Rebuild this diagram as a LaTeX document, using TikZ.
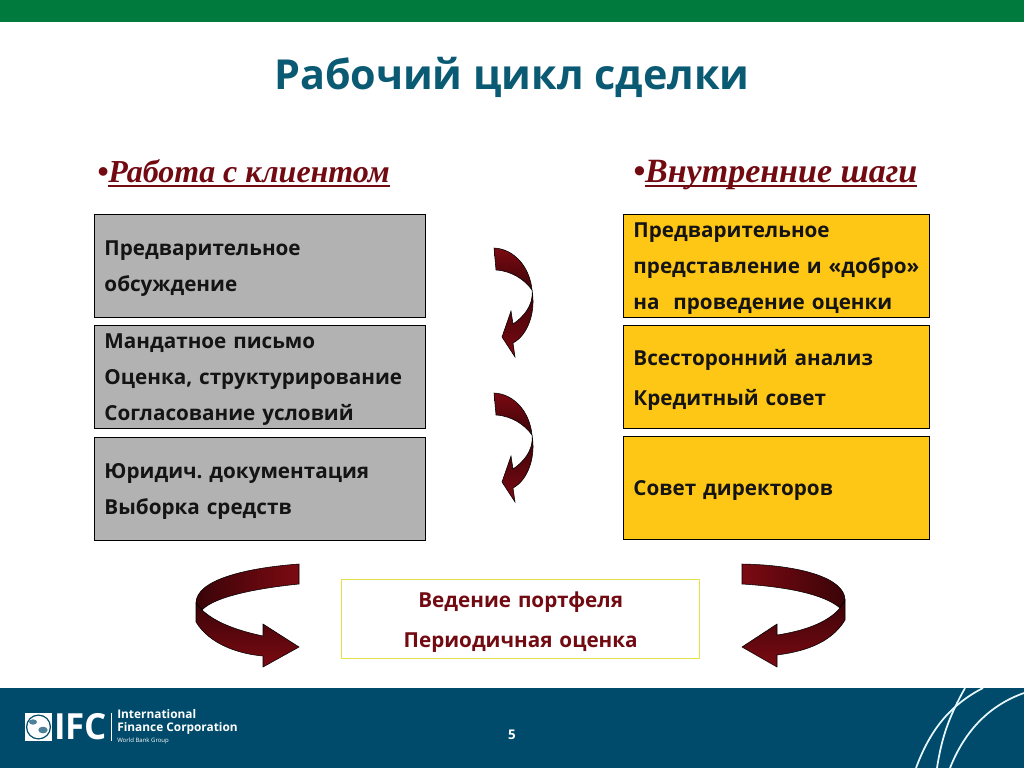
\documentclass[tikz,border=0pt]{standalone}
\usepackage{fontspec}
\setmainfont{Open Sans}
\newfontfamily\headfont{Liberation Serif}
\usetikzlibrary{positioning}
\newsavebox{\headbox}
\newcommand{\undertext}[1]{\sbox{\headbox}{#1}\rlap{\rule[-3.5pt]{\wd\headbox}{1pt}}\usebox{\headbox}}
\newcommand{\lowerend}{\endgraf\vspace{-4.5pt}}
\definecolor{ifcgreen}{HTML}{007A3D}
\definecolor{ifcblue}{HTML}{004B6B}
\definecolor{titleblue}{HTML}{0B5A73}
\definecolor{boxgray}{HTML}{B2B2B2}
\definecolor{boxgold}{HTML}{FFC715}
\definecolor{wine}{HTML}{7C0A12}
\definecolor{winedark}{HTML}{3A0408}
\definecolor{headred}{HTML}{720A12}
\definecolor{paleline}{HTML}{E6E24A}
\frenchspacing
\begin{document}
\begin{tikzpicture}[x=0.75pt,y=-0.75pt,
			low text/.style={execute at end node=\lowerend},
			main box/.style={draw=black,line width=0.7pt,anchor=north west,inner xsep=7.5pt,inner ysep=0pt,align=left,font=\bfseries\fontsize{15.5}{27}\selectfont,text=black!92,low text},
			gray box/.style={main box,fill=boxgray,minimum height=77pt,minimum width=248.5pt,text width=233.5pt},
			gold box/.style={main box,fill=boxgold,minimum height=77pt,minimum width=229.5pt,text width=214.5pt},
			head label/.style={font=\headfont\bfseries\itshape\fontsize{#1}{27}\selectfont,text=headred,anchor=base west,inner sep=0pt},
			ribbon/.style={draw=black,line width=0.4pt},
			fold up/.style={ribbon,top color=wine,middle color=wine,bottom color=winedark},
			fold down/.style={ribbon,top color=winedark,middle color=wine,bottom color=wine},
			swirl line/.style={white!90!cyan,line width=1.3pt},
			turn arrow/.pic={
				\path[fold up] (494,248) .. controls (515,249) and (530,268) .. (532,290) .. controls (525,280) and (512,271) .. (496,270) -- cycle;
				\path[fold down] (532,290) .. controls (536,312) and (528,335) .. (513,343) -- (515,357) -- (502,337) -- (511,311) -- (513,324) .. controls (522,318) and (534,306) .. (532,290) -- cycle;
			}]

		\useasboundingbox (0,0) rectangle (1024,768);
		\fill[ifcgreen] (0,0) rectangle (1024,22);
		\fill[ifcblue] (0,688) rectangle (1024,768);

		\node[font=\bfseries\fontsize{31}{36}\selectfont,text=titleblue] (title) at (512,77) {Рабочий цикл сделки};
		\node[head label=24] (left head) at (97,182) {\textbullet\undertext{Работа с клиентом}};
		\node[head label=25.5] (right head) at (633,182) {\textbullet\undertext{Внутренние шаги}};

		\node[gray box] (talk) at (94,214) {Предварительное\\обсуждение};
		\node[gray box] (mandate) at (94,325) {Мандатное письмо\\Оценка, структурирование\\Согласование условий};
		\node[gray box] (legal) at (94,437) {Юридич. документация\\Выборка средств};

		\node[gold box] (review) at (623,214) {Предварительное\\представление и «добро»\\на~ проведение оценки};
		\node[gold box] (analysis) at (623,325) {Всесторонний анализ\\[3.5pt]Кредитный совет};
		\node[gold box] (board) at (623,436) {Совет директоров};

		\node[draw=paleline,fill=white,line width=1pt,anchor=north west,minimum width=268.5pt,minimum height=59pt,text width=253pt,align=center,font=\bfseries\fontsize{15.5}{27}\selectfont,text=headred,low text] (portfolio) at (341,579) {Ведение портфеля\\[3.5pt]Периодичная оценка};

		\pic at (0,0) {turn arrow};
		\pic at (0,145) {turn arrow};

		\path[ribbon,left color=winedark,middle color=wine,right color=wine] (299,564) .. controls (245,568) and (196,580) .. (196,603) -- (202,610) .. controls (215,596) and (260,588) .. (299,584) -- cycle;
		\path[fold down] (196,603) -- (196,622) .. controls (210,645) and (240,654) .. (263,656) -- (263,667) -- (299,647) -- (263,624) -- (263,636) .. controls (235,630) and (215,622) .. (202,610) -- cycle;
		\path[ribbon,left color=wine,middle color=wine,right color=winedark] (742,564) .. controls (800,565) and (845,578) .. (845,600) -- (840,608) .. controls (825,595) and (790,587) .. (742,584) -- cycle;
		\path[fold down] (845,600) -- (845,620) .. controls (830,645) and (800,652) .. (777,655) -- (777,667) -- (742,647) -- (777,624) -- (777,635) .. controls (810,630) and (830,620) .. (840,608) -- cycle;

		\fill[white] (25,713) rectangle (52,741);
		\fill[ifcblue] (38.5,727) circle (9.4pt);
		\fill[white] (38.5,727) circle (8.4pt);
		\fill[ifcblue!70] (33,722) ellipse (3pt and 2pt);
		\fill[ifcblue!70] (43,730) ellipse (3.5pt and 2.5pt);
		\node[font=\bfseries\fontsize{27}{27}\selectfont,text=white,anchor=west,inner sep=0pt,xscale=0.97] (ifc) at (54,727) {IFC};
		\draw[white,line width=0.4pt] (111,713) -- (111,741);
		\node[font=\bfseries\fontsize{8.9}{10}\selectfont,text=white,anchor=north west,inner sep=0pt,align=left] (corp) at (117,709) {International\\Finance Corporation};
		\node[font=\fontsize{4.5}{5}\selectfont,text=white!80,inner sep=0pt,below right=2.5pt and 0pt of corp.south west] (group) {World Bank Group};
		\node[font=\bfseries\fontsize{10}{12}\selectfont,text=white] (page) at (512,735) {5};

		\draw[swirl line] (916,768) .. controls (930,730) and (950,705) .. (983,688);
		\draw[swirl line] (937,768) .. controls (942,735) and (950,715) .. (965,688);
		\draw[swirl line] (950,768) .. controls (965,730) and (990,705) .. (1024,693);
	\end{tikzpicture}
\end{document}
